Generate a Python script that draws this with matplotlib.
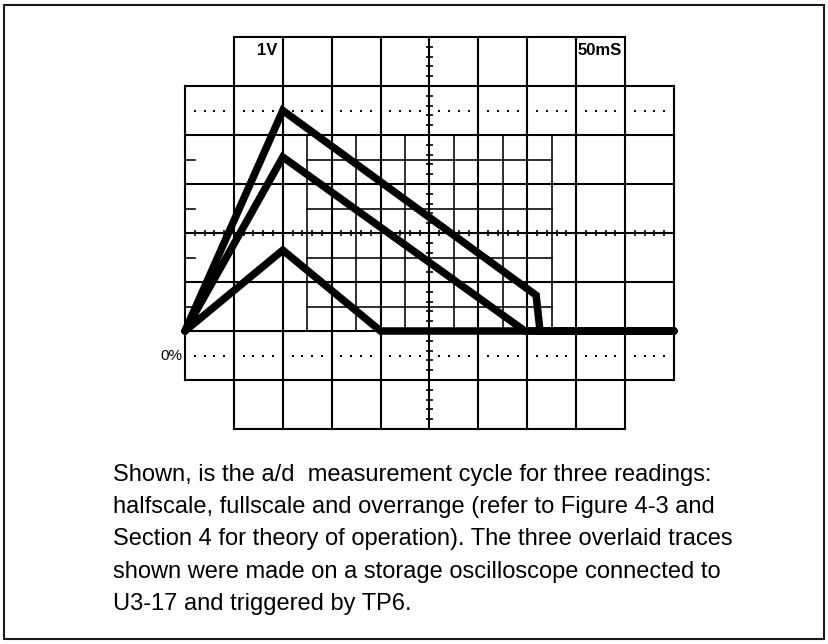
import numpy as np
import matplotlib
matplotlib.use("Agg")
import matplotlib.pyplot as plt
from matplotlib.patches import Rectangle

plt.rcParams['font.family'] = ['Liberation Sans', 'DejaVu Sans']

# Scope traces, in screen divisions (x: 0..10, y: 0..8, 0% line at y = 2)
halfscale_x = [0, 2, 4, 10]
halfscale_y = [2, 3.65, 2, 2]
fullscale_x = [0, 2, 6.95, 10]
fullscale_y = [2, 5.55, 2, 2]
overrange_x = [0, 2, 7.18, 7.26, 10]
overrange_y = [2, 6.5, 2.73, 2, 2]

volts_label = "1V"
time_label = "50mS"
zero_label = "0%"

caption_lines = [
    "Shown, is the a/d  measurement cycle for three readings:",
    "halfscale, fullscale and overrange (refer to Figure 4-3 and",
    "Section 4 for theory of operation). The three overlaid traces",
    "shown were made on a storage oscilloscope connected to",
    "U3-17 and triggered by TP6.",
]

W, H = 829, 644
fig = plt.figure(figsize=(W / 100, H / 100), dpi=100)

# outer frame round the whole figure
fig.patches.append(Rectangle((4 / W, 5 / H), 820 / W, 634 / H, transform=fig.transFigure,
                             fill=False, edgecolor='#1a1a1a', linewidth=1.5))

# graticule axes: 10 x 8 divisions
ax = fig.add_axes([185 / W, (H - 429) / H, 489 / W, 392 / H])
ax.set_xlim(0, 10)
ax.set_ylim(0, 8)
ax.axis('off')

grid_kw = dict(color='black', linewidth=1.5, clip_on=False, zorder=1)
fine_kw = dict(color='black', linewidth=1.15, clip_on=False, zorder=1)

# major lines (the corner cells are cut off like a real graticule)
for i in range(11):
    if i in (0, 10):
        ax.plot([i, i], [1, 7], **grid_kw)
    else:
        ax.plot([i, i], [0, 8], **grid_kw)
for j in range(9):
    if j in (0, 8):
        ax.plot([1, 9], [j, j], **grid_kw)
    else:
        ax.plot([0, 10], [j, j], **grid_kw)

# half-division grid in the middle block
for xv in np.arange(2.5, 7.6, 1.0):
    ax.plot([xv, xv], [2, 6], **fine_kw)
for yv in np.arange(2.5, 5.6, 1.0):
    ax.plot([2.5, 7.5], [yv, yv], **fine_kw)

# small ticks on the left edge
for yv in [2.5, 3.5, 4.5, 5.5]:
    ax.plot([0, 0.2], [yv, yv], **fine_kw)

# tick marks on the centre crosshair, every 0.2 division
ty = np.arange(0, 8.01, 0.2)
ax.hlines(ty, 5 - 0.065, 5 + 0.065, colors='black', linewidth=1.2, clip_on=False)
tx = np.arange(0, 10.01, 0.2)
ax.vlines(tx, 4 - 0.065, 4 + 0.065, colors='black', linewidth=1.2, clip_on=False)

# dotted rows
dot_x = np.concatenate([c + np.array([0.2, 0.4, 0.6, 0.8]) for c in range(10)])
for yv in [6.5, 1.5]:
    ax.scatter(dot_x, np.full_like(dot_x, yv), s=2.2, marker='s', color='black',
               linewidths=0, clip_on=False, zorder=2)

# the three stored traces
trace_kw = dict(color='black', linewidth=5.4, solid_capstyle='round',
                solid_joinstyle='miter', clip_on=False, zorder=3)
ax.plot(halfscale_x, halfscale_y, **trace_kw)
ax.plot(fullscale_x, fullscale_y, **trace_kw)
ax.plot(overrange_x, overrange_y, **trace_kw)

# scale labels
ax.text(1.88, 7.63, volts_label, ha='right', va='baseline', fontsize=12,
        fontweight='bold')
ax.text(8.94, 7.63, time_label, ha='right', va='baseline', fontsize=12,
        fontweight='bold')
ax.text(-0.06, 1.5, zero_label, ha='right', va='center', fontsize=11)

# caption below the screen
for k, line in enumerate(caption_lines):
    base = 481 + k * 32.25
    fig.text(113 / W, (H - base) / H, line, ha='left', va='baseline', fontsize=17)

fig.savefig("out.png", dpi=100)
